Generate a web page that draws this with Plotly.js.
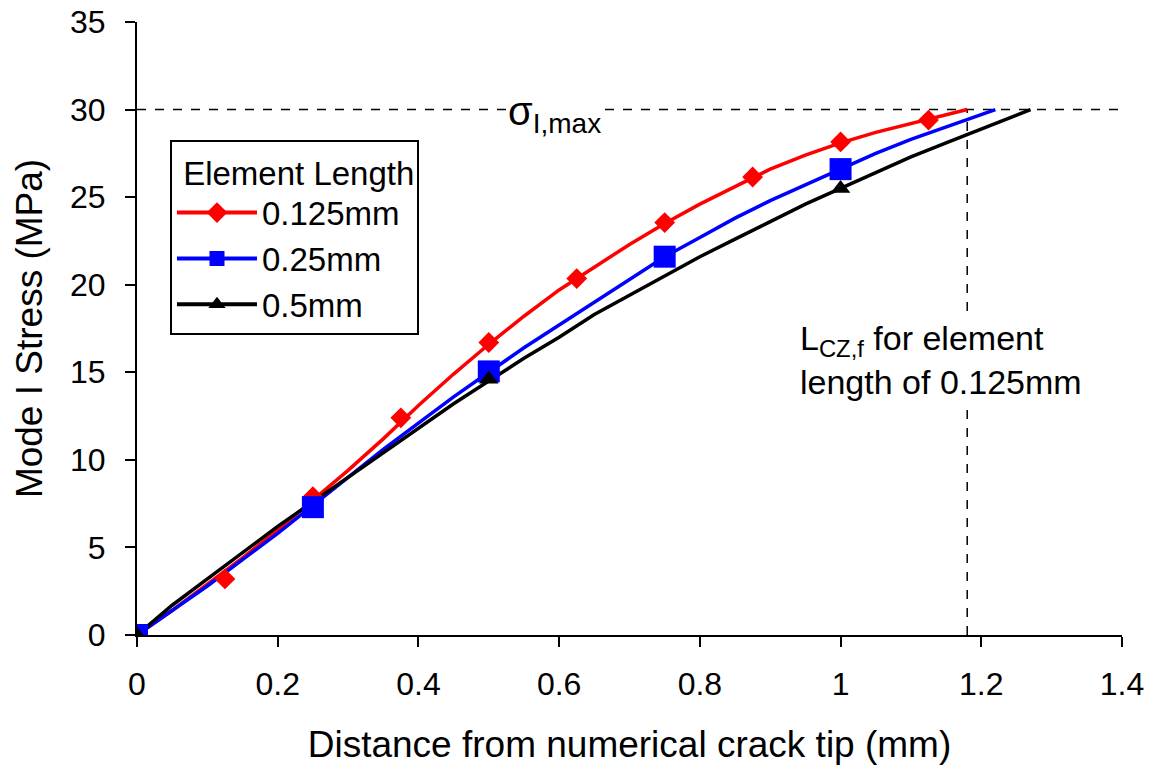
<!DOCTYPE html>
<html>
<head>
<meta charset="utf-8">
<script src="https://cdn.plot.ly/plotly-3.0.1.min.js"></script>
<style>html,body{margin:0;padding:0;background:#fff;}#chart{width:1154px;height:775px;}</style>
</head>
<body>
<div id="chart"></div>
<script>
// Curves (continuous lines)
const redLineX   = [0,0.05,0.1,0.15,0.2,0.25,0.3,0.35,0.4,0.45,0.5,0.55,0.6,0.65,0.7,0.75,0.8,0.85,0.9,0.95,1.0,1.05,1.1,1.15,1.18];
const redLineY   = [0,1.4,2.9,4.4,6.0,7.7,9.4,11.2,13.1,14.9,16.6,18.2,19.7,21.0,22.3,23.5,24.6,25.6,26.6,27.4,28.1,28.7,29.2,29.7,30.0];
const blueLineX  = [0,0.05,0.1,0.15,0.2,0.25,0.3,0.35,0.4,0.45,0.5,0.55,0.6,0.65,0.7,0.75,0.8,0.85,0.9,0.95,1.0,1.05,1.1,1.15,1.2,1.22];
const blueLineY  = [0,1.4,2.8,4.3,5.8,7.4,9.0,10.6,12.1,13.6,15.0,16.4,17.7,19.0,20.3,21.6,22.7,23.8,24.8,25.7,26.6,27.5,28.3,29.0,29.7,30.0];
const blackLineX = [0,0.05,0.1,0.15,0.2,0.25,0.3,0.35,0.4,0.45,0.5,0.55,0.6,0.65,0.7,0.75,0.8,0.85,0.9,0.95,1.0,1.05,1.1,1.15,1.2,1.25,1.27];
const blackLineY = [0,1.7,3.2,4.7,6.2,7.6,9.0,10.4,11.8,13.2,14.5,15.8,17.0,18.3,19.4,20.5,21.6,22.6,23.6,24.6,25.5,26.4,27.3,28.1,28.9,29.7,30.0];

// Nodal markers
const redMarkX   = [0,0.125,0.25,0.375,0.5,0.625,0.75,0.875,1.0,1.125];
const redMarkY   = [0,3.2,7.9,12.4,16.7,20.35,23.55,26.15,28.15,29.4];
const blueMarkX  = [0,0.25,0.5,0.75,1.0];
const blueMarkY  = [0,7.3,15.05,21.6,26.6];
const blackMarkX = [0,0.5,1.0];
const blackMarkY = [0,14.6,25.5];

const seriesNames = ['0.125mm','0.25mm','0.5mm'];
const xTickVals = [0,0.2,0.4,0.6,0.8,1,1.2,1.4];
const xTickText = ['0','0.2','0.4','0.6','0.8','1','1.2','1.4'];
const yTickVals = [0,5,10,15,20,25,30,35];
const sigmaMax = 30;
const lczF = 1.18;

const FONT = 'Liberation Sans, Arial, sans-serif';

const traces = [
  {x: redLineX, y: redLineY, mode:'lines', line:{color:'#ff0000', width:3.5}, showlegend:false, hoverinfo:'skip'},
  {x: blueLineX, y: blueLineY, mode:'lines', line:{color:'#0000ff', width:3.5}, showlegend:false, hoverinfo:'skip'},
  {x: blackLineX, y: blackLineY, mode:'lines', line:{color:'#000000', width:3.5}, showlegend:false, hoverinfo:'skip'},
  {x: redMarkX, y: redMarkY, mode:'markers', marker:{symbol:'diamond', size:16, color:'#ff0000'}, showlegend:false},
  {x: blueMarkX, y: blueMarkY, mode:'markers', marker:{symbol:'square', size:22, color:'#0000ff'}, showlegend:false},
  {x: blackMarkX, y: blackMarkY, mode:'markers', marker:{symbol:'triangle-up', size:17, color:'#000000'}, showlegend:false},
  {x:[null], y:[null], name: seriesNames[0], mode:'lines+markers', line:{color:'#ff0000', width:4}, marker:{symbol:'diamond', size:16, color:'#ff0000'}},
  {x:[null], y:[null], name: seriesNames[1], mode:'lines+markers', line:{color:'#0000ff', width:4}, marker:{symbol:'square', size:15, color:'#0000ff'}},
  {x:[null], y:[null], name: seriesNames[2], mode:'lines+markers', line:{color:'#000000', width:4}, marker:{symbol:'triangle-up', size:15, color:'#000000'}}
];

const layout = {
  width:1154, height:775,
  margin:{l:137, r:32, t:22, b:140},
  paper_bgcolor:'#fff', plot_bgcolor:'#fff',
  font:{family:FONT, color:'#000', size:32},
  showlegend:true,
  xaxis:{
    range:[0,1.4], tickvals:xTickVals, ticktext:xTickText,
    showline:true, linecolor:'#000', linewidth:2, ticks:'outside', ticklen:10, tickwidth:2, tickcolor:'#000',
    showgrid:false, zeroline:false, tickfont:{size:32}, ticklabelstandoff:10,
    title:{text:'Distance from numerical crack tip (mm)', font:{size:37}, standoff:30}
  },
  yaxis:{
    range:[0,35], tickvals:yTickVals,
    showline:true, linecolor:'#000', linewidth:2, ticks:'outside', ticklen:10, tickwidth:2, tickcolor:'#000',
    showgrid:false, zeroline:false, tickfont:{size:32}, ticklabelstandoff:13,
    title:{text:'Mode I Stress (MPa)', font:{size:37}, standoff:16}
  },
  legend:{
    x:0.0335, y:0.808, xanchor:'left', yanchor:'top',
    bgcolor:'#fff', bordercolor:'#000', borderwidth:2,
    font:{size:33}, title:{text:' Element Length', font:{size:33}},
    itemwidth:80, tracegroupgap:0
  },
  shapes:[
    {type:'line', xref:'x', yref:'y', x0:0, x1:1.4, y0:sigmaMax, y1:sigmaMax, line:{color:'#000', width:1.5, dash:'dash'}, layer:'below'},
    {type:'line', xref:'x', yref:'y', x0:lczF, x1:lczF, y0:0, y1:sigmaMax, line:{color:'#000', width:1.5, dash:'dash'}, layer:'below'}
  ],
  annotations:[
    {x:0.594, y:sigmaMax, xref:'x', yref:'y', text:'σ<sub>I,max</sub>', showarrow:false, bgcolor:'#fff', font:{size:40}, xanchor:'center', yanchor:'middle', yshift:-4},
    {x:lczF, y:15.7, xref:'x', yref:'y', xshift:-26, text:'L<sub>CZ,f</sub> for element<br>length of 0.125mm', showarrow:false, bgcolor:'#fff', font:{size:34}, xanchor:'center', yanchor:'middle', align:'left'}
  ]
};

Plotly.newPlot('chart', traces, layout, {staticPlot:true});
</script>
</body>
</html>
